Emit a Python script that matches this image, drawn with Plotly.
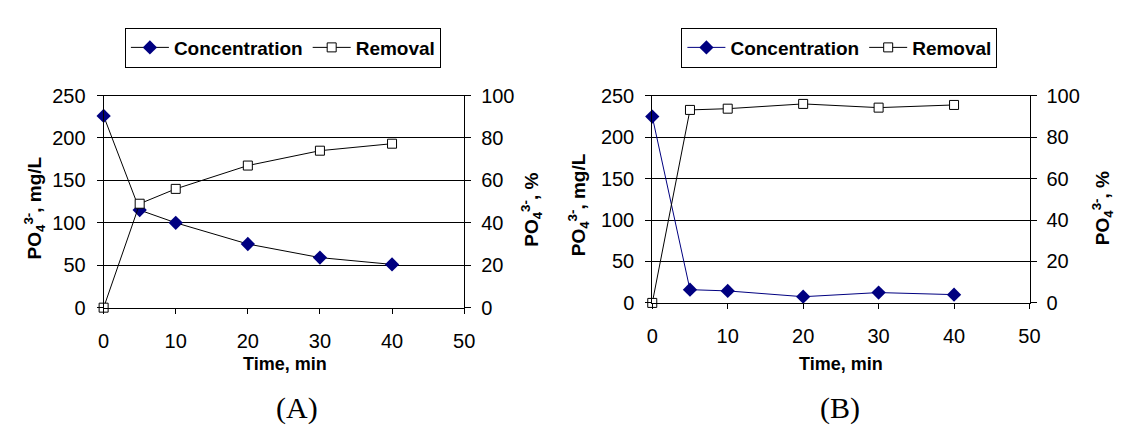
import plotly.graph_objects as go

# ---- data ----
time_min = [0, 5, 10, 20, 30, 40]
conc_A = [226, 115, 100, 75, 59, 51]
removal_A = [0, 49, 56, 67, 74, 77.3]
conc_B = [225, 16, 14.5, 7.5, 12.5, 10]
removal_B = [0, 93.2, 93.8, 96.1, 94.3, 95.6]

x_ticks = [0, 10, 20, 30, 40, 50]
left_ticks = [0, 50, 100, 150, 200, 250]
right_ticks = [0, 20, 40, 60, 80, 100]

W, H = 1131, 428
NAVY = "#000080"
SANS = "Liberation Sans, Arial, sans-serif"
SERIF = "Liberation Serif, Times New Roman, serif"


def px(xp):
    return xp / W


def py(yp):
    return 1 - yp / H


fig = go.Figure()

# panel A
fig.add_trace(go.Scatter(x=time_min, y=conc_A, xaxis="x", yaxis="y", name="Concentration",
                         mode="lines+markers", legend="legend", cliponaxis=False,
                         line=dict(color="black", width=1),
                         marker=dict(symbol="diamond", size=11, color=NAVY, line=dict(width=0))))
fig.add_trace(go.Scatter(x=time_min, y=removal_A, xaxis="x", yaxis="y2", name="Removal",
                         mode="lines+markers", legend="legend", cliponaxis=False,
                         line=dict(color="black", width=1),
                         marker=dict(symbol="square", size=9, color="white",
                                     line=dict(color="black", width=1))))
# panel B
fig.add_trace(go.Scatter(x=time_min, y=conc_B, xaxis="x2", yaxis="y3", name="Concentration",
                         mode="lines+markers", legend="legend2", cliponaxis=False,
                         line=dict(color=NAVY, width=1),
                         marker=dict(symbol="diamond", size=11, color=NAVY, line=dict(width=0))))
fig.add_trace(go.Scatter(x=time_min, y=removal_B, xaxis="x2", yaxis="y4", name="Removal",
                         mode="lines+markers", legend="legend2", cliponaxis=False,
                         line=dict(color="black", width=1),
                         marker=dict(symbol="square", size=9, color="white",
                                     line=dict(color="black", width=1))))

tickfont = dict(family=SANS, size=20, color="black")
common_x = dict(range=[0, 50], tickvals=x_ticks, ticks="outside", ticklen=5, tickcolor="black",
                showline=True, linecolor="black", linewidth=1, mirror=True, showgrid=False,
                zeroline=False, tickfont=tickfont, ticklabelstandoff=10)
common_yl = dict(range=[0, 250], tickvals=left_ticks, ticks="outside", ticklen=6, tickcolor="black",
                 showline=True, linecolor="black", linewidth=1, showgrid=True, gridcolor="black",
                 gridwidth=1, zeroline=False, tickfont=tickfont, ticklabelstandoff=7)
common_yr = dict(range=[0, 100], tickvals=right_ticks, ticks="outside", ticklen=6, tickcolor="black",
                 showline=True, linecolor="black", linewidth=1, showgrid=False, side="right",
                 zeroline=False, tickfont=tickfont, ticklabelstandoff=6)

fig.update_layout(
    width=W, height=H, margin=dict(l=0, r=0, t=0, b=0),
    paper_bgcolor="white", plot_bgcolor="white",
    xaxis=dict(domain=[px(91), px(457)], anchor="y", **common_x),
    yaxis=dict(domain=[py(304.3), py(80.7)], anchor="x", **common_yl),
    yaxis2=dict(overlaying="y", anchor="x", **common_yr),
    xaxis2=dict(domain=[px(648), px(1031)], anchor="y3", **common_x),
    yaxis3=dict(domain=[py(299.3), py(81)], anchor="x2", **common_yl),
    yaxis4=dict(overlaying="y3", anchor="x2", **common_yr),
    legend=dict(x=px(273), xanchor="center", y=py(9), yanchor="top", orientation="h",
                bordercolor="black", borderwidth=1, bgcolor="white", itemwidth=38,
                font=dict(family=SANS, size=19, color="black", weight="bold")),
    legend2=dict(x=px(838), xanchor="center", y=py(9), yanchor="top", orientation="h",
                 bordercolor="black", borderwidth=1, bgcolor="white", itemwidth=38,
                 font=dict(family=SANS, size=19, color="black", weight="bold")),
)

title_font = dict(family=SANS, size=19, color="black", weight="bold")
ylab_left = "PO<sub>4</sub><sup>3-</sup>, mg/L"
ylab_right = "PO<sub>4</sub><sup>3-</sup>, %"
annots = [
    dict(x=px(21), y=py(199), text=ylab_left, textangle=-90, font=title_font),
    dict(x=px(526), y=py(201), text=ylab_right, textangle=-90, font=title_font),
    dict(x=px(574), y=py(196), text=ylab_left, textangle=-90, font=title_font),
    dict(x=px(1105), y=py(199), text=ylab_right, textangle=-90, font=title_font),
    dict(x=px(275), y=py(364), text="Time, min", font=dict(family=SANS, size=18, color="black", weight="bold")),
    dict(x=px(840), y=py(364), text="Time, min", font=dict(family=SANS, size=18, color="black", weight="bold")),
    dict(x=px(287.5), y=py(410), text="(A)", font=dict(family=SERIF, size=30, color="black")),
    dict(x=px(838.5), y=py(410), text="(B)", font=dict(family=SERIF, size=30, color="black")),
]
for a in annots:
    fig.add_annotation(xref="paper", yref="paper", xanchor="center", yanchor="middle",
                       showarrow=False, **a)

fig.write_html("out.html")
